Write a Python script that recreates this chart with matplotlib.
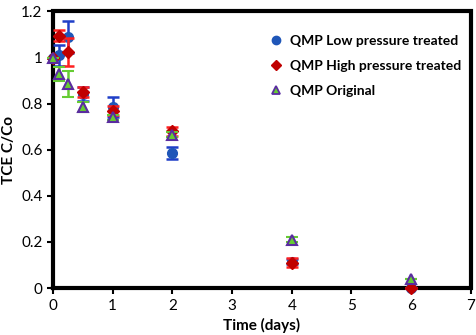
import matplotlib
matplotlib.use("Agg")
import matplotlib.pyplot as plt
from matplotlib.lines import Line2D

plt.rcParams['font.family'] = ['Lato', 'DejaVu Sans']

# time (days)
t_low = [0, 0.1, 0.25, 0.5, 1, 2, 4, 6]
low = [1.0, 1.01, 1.09, 0.84, 0.785, 0.585, 0.115, 0.0]
low_err = [0.0, 0.045, 0.07, 0.03, 0.045, 0.025, 0.01, 0.0]

t_high = [0, 0.1, 0.25, 0.5, 1, 2, 4, 6]
high = [1.0, 1.095, 1.025, 0.85, 0.77, 0.68, 0.11, 0.0]
high_err = [0.0, 0.025, 0.06, 0.02, 0.02, 0.02, 0.02, 0.0]

t_orig = [0, 0.1, 0.25, 0.5, 1, 2, 4, 6]
orig = [1.0, 0.93, 0.885, 0.785, 0.74, 0.665, 0.21, 0.04]
orig_err = [0.0, 0.03, 0.055, 0.02, 0.01, 0.01, 0.01, 0.0]

labels = ['QMP Low pressure treated', 'QMP High pressure treated', 'QMP Original']

fig = plt.figure(figsize=(4.77, 3.35), dpi=100)
ax = fig.add_axes([0.111, 0.140, 0.876, 0.826])

styles = [
    dict(fmt='o', color='#1f56b8', ecolor='#1f3fc8', markersize=7, zorder=3),
    dict(fmt='D', color='#c00000', ecolor='#ff2020', markersize=6, zorder=4),
    dict(fmt='^', color='#66cc33', mec='#5a2ca0', mew=1.5, ecolor='#66cc33', markersize=7, zorder=5),
]
series = [(t_low, low, low_err), (t_high, high, high_err), (t_orig, orig, orig_err)]

for (t, y, e), st in zip(series, styles):
    cont = ax.errorbar(t, y, yerr=e, elinewidth=1.8, capsize=4, capthick=1.8, **st)
    for art in cont.get_children():
        art.set_clip_on(False)

ax.set_xlim(0, 7)
ax.set_ylim(0, 1.2)
ax.set_xticks(range(0, 8))
ax.set_yticks([0, 0.2, 0.4, 0.6, 0.8, 1.0, 1.2])
ax.set_yticklabels(['0', '0.2', '0.4', '0.6', '0.8', '1', '1.2'])
ax.tick_params(direction='out', length=4, width=1.5, labelsize=11, color='black')

for s in ax.spines.values():
    s.set_visible(False)
# thick black frame round the plot area, drawn as a line in axes coordinates
ax.add_line(Line2D([0, 1, 1, 0, 0], [0, 0, 1, 1, 0], transform=ax.transAxes,
                   color='black', linewidth=3, clip_on=False, zorder=1,
                   solid_joinstyle='miter'))

ax.set_xlabel('Time (days)', fontsize=11, fontweight='bold')
ax.set_ylabel('TCE C/Co', fontsize=11, fontweight='bold')

handles = [
    Line2D([], [], ls='none', marker='o', color='#1f56b8', markersize=6),
    Line2D([], [], ls='none', marker='D', color='#c00000', markersize=5),
    Line2D([], [], ls='none', marker='^', color='#66cc33', mec='#5a2ca0', mew=1.3, markersize=6),
]
ax.legend(handles, labels, loc='upper left', bbox_to_anchor=(0.48, 0.96), frameon=False,
          prop={'weight': 'bold', 'size': 10}, handletextpad=0.2, handlelength=1.5,
          labelspacing=0.95)

fig.savefig('out.png', dpi=100)
